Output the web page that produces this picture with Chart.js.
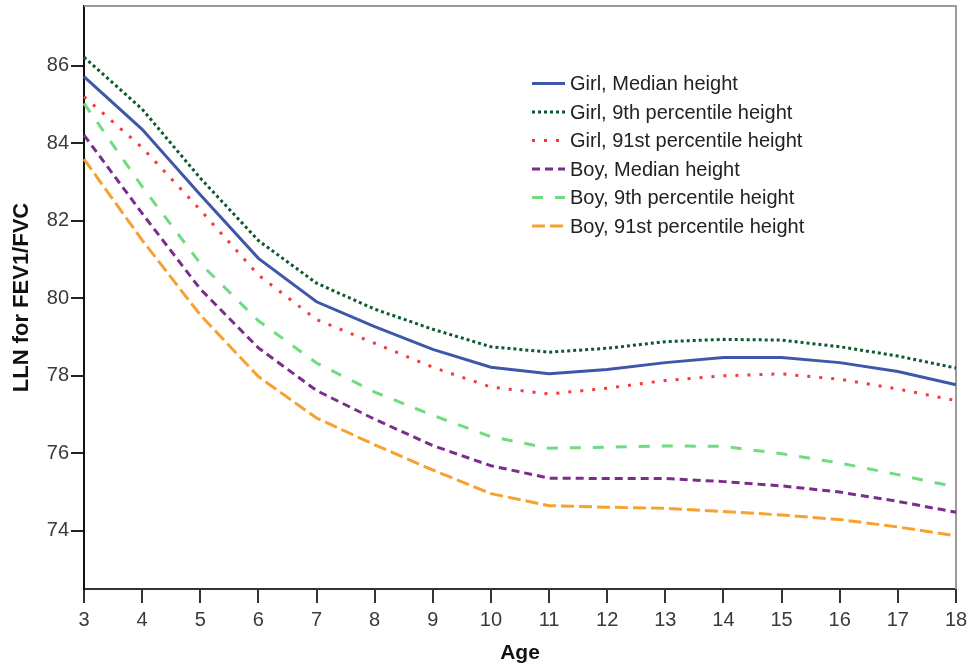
<!DOCTYPE html>
<html>
<head>
<meta charset="utf-8">
<script src="https://cdn.jsdelivr.net/npm/chart.js@4.4.0/dist/chart.umd.min.js"></script>
<style>
  html, body { margin: 0; padding: 0; background: #ffffff; }
  #wrap { width: 969px; height: 669px; }
</style>
</head>
<body>
<div id="wrap"><canvas id="c" width="969" height="669"></canvas></div>
<script>
const ages = ['3','4','5','6','7','8','9','10','11','12','13','14','15','16','17','18'];
const yTicks = [74, 76, 78, 80, 82, 84, 86];
const seriesNames = [
  'Girl, Median height',
  'Girl, 9th percentile height',
  'Girl, 91st percentile height',
  'Boy, Median height',
  'Boy, 9th percentile height',
  'Boy, 91st percentile height'
];
const girlMedian = [85.72, 84.36, 82.67, 81.03, 79.91, 79.27, 78.68, 78.22, 78.05, 78.16, 78.34, 78.47, 78.47, 78.34, 78.11, 77.77];
const girl9th    = [86.22, 84.88, 83.10, 81.49, 80.39, 79.72, 79.20, 78.75, 78.61, 78.71, 78.88, 78.94, 78.92, 78.75, 78.51, 78.20];
const girl91st   = [85.20, 83.89, 82.28, 80.60, 79.45, 78.84, 78.22, 77.71, 77.53, 77.68, 77.88, 78.00, 78.05, 77.91, 77.66, 77.36];
const boyMedian  = [84.21, 82.19, 80.24, 78.72, 77.62, 76.88, 76.20, 75.68, 75.36, 75.35, 75.35, 75.27, 75.16, 75.00, 74.76, 74.48];
const boy9th     = [85.03, 82.88, 80.90, 79.42, 78.33, 77.58, 76.98, 76.43, 76.13, 76.16, 76.19, 76.18, 75.99, 75.75, 75.45, 75.13];
const boy91st    = [83.59, 81.50, 79.57, 77.98, 76.91, 76.22, 75.57, 74.96, 74.65, 74.61, 74.58, 74.50, 74.41, 74.29, 74.10, 73.87];

const styles = [
  { color: '#3f57a9', dash: [] },
  { color: '#0e5a2d', dash: [3, 3] },
  { color: '#f43a3d', dash: [3, 9] },
  { color: '#7b2c8c', dash: [8, 5] },
  { color: '#6fdc82', dash: [11, 12] },
  { color: '#f8a12e', dash: [13, 5] }
];
const values = [girlMedian, girl9th, girl91st, boyMedian, boy9th, boy91st];

const datasets = values.map((v, i) => ({
  label: seriesNames[i],
  data: v,
  borderColor: styles[i].color,
  backgroundColor: styles[i].color,
  borderDash: styles[i].dash,
  borderWidth: 3,
  borderCapStyle: 'butt',
  pointRadius: 0,
  tension: 0,
  fill: false
}));

const FONT = "'Liberation Sans', Arial, sans-serif";

const framePlugin = {
  id: 'frame',
  beforeDatasetsDraw(chart) {
    const { ctx, chartArea: a } = chart;
    ctx.save();
    ctx.strokeStyle = '#9a9a9a';
    ctx.lineWidth = 2;
    ctx.beginPath();
    ctx.moveTo(a.left, a.top);
    ctx.lineTo(a.right, a.top);
    ctx.lineTo(a.right, a.bottom);
    ctx.stroke();
    ctx.restore();
  }
};

const legendPlugin = {
  id: 'insideLegend',
  afterDatasetsDraw(chart) {
    const { ctx } = chart;
    const x0 = 532, x1 = 565, tx = 570, y0 = 83.5, dy = 28.5;
    ctx.save();
    chart.data.datasets.forEach((ds, i) => {
      const y = y0 + i * dy;
      ctx.strokeStyle = ds.borderColor;
      ctx.lineWidth = ds.borderWidth;
      ctx.lineCap = 'butt';
      ctx.setLineDash(ds.borderDash || []);
      ctx.beginPath();
      ctx.moveTo(x0, y);
      ctx.lineTo(x1, y);
      ctx.stroke();
      ctx.setLineDash([]);
      ctx.fillStyle = '#222222';
      ctx.font = '20px ' + FONT;
      ctx.textBaseline = 'middle';
      ctx.textAlign = 'left';
      ctx.fillText(ds.label, tx, y + 1);
    });
    ctx.restore();
  }
};

new Chart(document.getElementById('c'), {
  type: 'line',
  data: { labels: ages, datasets },
  plugins: [framePlugin, legendPlugin],
  options: {
    responsive: false,
    animation: false,
    devicePixelRatio: 1,
    layout: { padding: { left: 0, right: 13, top: 6, bottom: 0 } },
    plugins: { legend: { display: false }, tooltip: { enabled: false } },
    scales: {
      x: {
        type: 'category',
        offset: false,
        border: { display: true, color: '#333333', width: 2 },
        grid: { display: true, drawOnChartArea: false, drawTicks: true, tickLength: 14, color: '#333333', lineWidth: 2 },
        ticks: { color: '#3a3a3a', font: { family: FONT, size: 20 }, padding: 5, maxRotation: 0, autoSkip: false },
        title: { display: true, text: 'Age', color: '#111111', font: { family: FONT, size: 21, weight: 'bold' }, padding: { top: 0, bottom: 3 } },
        afterFit(scale) { scale.height = 80; scale.paddingLeft = 0; scale.paddingRight = 0; }
      },
      y: {
        type: 'linear',
        min: 72.5,
        max: 87.54,
        border: { display: true, color: '#111111', width: 2 },
        grid: { display: true, drawOnChartArea: false, drawTicks: true, tickLength: 13, color: '#222222', lineWidth: 2 },
        afterBuildTicks(scale) { scale.ticks = yTicks.map(v => ({ value: v })); },
        ticks: { color: '#3a3a3a', font: { family: FONT, size: 20 }, padding: 2 },
        title: { display: true, text: 'LLN for FEV1/FVC', color: '#111111', font: { family: FONT, size: 22, weight: 'bold' }, padding: { top: 9, bottom: 0 } },
        afterFit(scale) { scale.width = 84; scale.paddingTop = 0; scale.paddingBottom = 0; }
      }
    }
  }
});
</script>
</body>
</html>
